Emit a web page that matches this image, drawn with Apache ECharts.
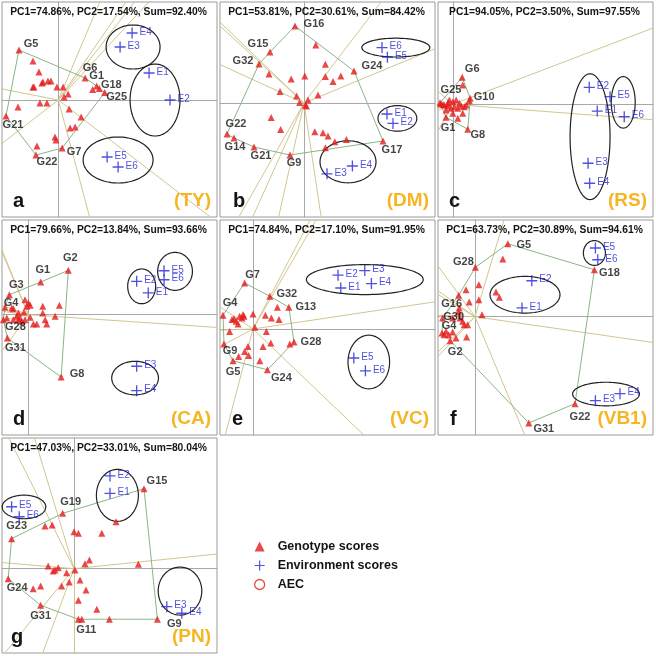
<!DOCTYPE html>
<html><head><meta charset="utf-8">
<script src="https://cdn.jsdelivr.net/npm/echarts@6/dist/echarts.min.js"></script>
<style>html,body{margin:0;padding:0;background:#fff}#c{width:656px;height:656px}</style>
</head><body><div id="c"></div>
<script>
// ---------- DATA ----------
const envNames = ['E1','E2','E3','E4','E5','E6'];
const pcTitles = [
  'PC1=74.86%, PC2=17.54%, Sum=92.40%',
  'PC1=53.81%, PC2=30.61%, Sum=84.42%',
  'PC1=94.05%, PC2=3.50%, Sum=97.55%',
  'PC1=79.66%, PC2=13.84%, Sum=93.66%',
  'PC1=74.84%, PC2=17.10%, Sum=91.95%',
  'PC1=63.73%, PC2=30.89%, Sum=94.61%',
  'PC1=47.03%, PC2=33.01%, Sum=80.04%'
];
const letters = ['a','b','c','d','e','f','g'];
const sites = ['(TY)','(DM)','(RS)','(CA)','(VC)','(VB1)','(PN)'];

// panel a (TY)
const hullNamesA = ['G5','G6','G1','G18','G25','G7','G22','G21'];
const hullA = [[-1.97,2.5],[1.34,1.1],[1.92,0.7],[2.05,0.58],[2.32,0.37],[0.19,-2.4],[-1.12,-2.75],[-2.62,-0.8]];
const genoA = [[-1.27,1.95],[-0.97,1.4],[-0.77,0.9],[-0.52,0.95],[-0.37,0.95],[-0.82,0.85],[-1.27,0.65],[-1.22,0.65],[-0.07,0.65],[0.24,0.65],[0.29,0.15],[0.49,0.3],[-0.92,-0.15],[-0.57,-0.15],[-2.02,-0.35],[0.54,-0.45],[1.14,-0.85],[0.84,-1.35],[0.59,-1.4],[-0.17,-1.85],[-0.12,-2.0],[-1.07,-2.3],[1.72,0.53]];
const envA = [[4.54,1.35],[5.59,0],[3.09,2.65],[3.69,3.35],[2.44,-2.85],[2.99,-3.35]];
const ellA = [[3.74,2.65,1.35,1.1],[4.84,0,1.25,1.8],[2.99,-3.0,1.75,1.15]];
const rangeA = [-2.82,7.94,-5.85,4.9];

// panel b (DM)
const hullNamesB = ['G16','G24','G17','G9','G21','G14','G22','G32','G15'];
const hullB = [[-0.45,3.85],[2.5,1.6],[3.95,-1.9],[-0.7,-2.6],[-2.5,-2.2],[-3.5,-1.75],[-3.85,-1.55],[-2.25,1.95],[-1.7,2.55]];
const genoB = [[0.59,2.9],[1.07,1.94],[-1.75,1.45],[-0.64,1.2],[0.04,1.35],[1.07,1.32],[1.45,1.07],[1.84,1.35],[-1.2,0.57],[-0.37,0.35],[0.7,0.4],[0.2,0.15],[-0.22,0.02],[0.07,-0.1],[0.12,-0.15],[-1.64,-0.72],[-1.17,-1.32],[0.54,-1.44],[0.95,-1.49],[1.2,-1.65],[1.54,-1.94],[2.12,-1.82],[1.07,-2.24]];
const envB = [[4.15,-0.55],[4.45,-1.02],[1.15,-3.54],[2.42,-3.15],[4.17,2.29],[3.9,2.77]];
const ellB = [[4.59,2.77,1.7,0.47],[4.67,-0.77,0.97,0.64],[2.2,-2.94,1.4,1.05]];
const rangeB = [-4.2,6.55,-5.7,5.05];

// panel c (RS)
const hullNamesC = ['G6','G10','G8','G1','G25'];
const hullC = [[0.47,1.35],[0.87,0.3],[0.75,-1.25],[-0.34,-0.65],[-0.64,0.08]];
const genoC = [[0.5,0.97],[-0.17,0.22],[0,0.13],[0.17,0.22],[0.33,0.05],[0.67,-0.04],[-0.42,-0.04],[-0.59,0.02],[-0.25,-0.09],[0.08,-0.12],[0.42,-0.09],[-0.09,-0.2],[0.25,-0.2],[0.58,-0.12],[0.83,0.18],[-0.34,-0.29],[0.25,-0.7],[0.5,-0.45],[0,-0.45],[-0.49,-0.01],[-0.24,0.07]];
const envC = [[7.23,-0.34],[6.83,0.85],[6.77,-2.95],[6.85,-3.95],[7.87,0.38],[8.58,-0.62]];
const ellC = [[6.87,-1.62,1.0,3.15],[8.53,0.1,0.6,1.29]];
const rangeC = [-0.74,10.02,-5.64,5.12];

// panel d (CA)
const hullNamesD = ['G2','G8','G31','G28','G4','G3','G1'];
const hullD = [[2.0,2.22],[1.64,-3.12],[-1.05,-1.17],[-1.25,-0.25],[-1.17,0.37],[-0.95,1.0],[0.62,1.64]];
const genoD = [[-0.17,0.75],[0,0.59],[-0.08,0.42],[0.09,0.47],[0.72,0.42],[1.55,0.47],[-0.83,0.34],[-0.75,0.3],[-0.5,0.09],[-0.22,0.14],[0.72,0.09],[1.34,-0.08],[0.25,-0.47],[0.42,-0.47],[0.92,-0.47],[0.84,-0.25],[-0.42,-0.17],[-0.17,-0.25],[0.09,-0.13],[-0.5,-0.25],[-1.08,-0.17],[-0.58,-0.08],[-0.33,-0.33],[-0.75,-0.25]];
const envD = [[6.0,1.09],[5.42,1.67],[5.42,-2.58],[5.42,-3.8],[6.79,2.2],[6.79,1.75]];
const ellD = [[5.67,1.42,0.7,0.87],[7.34,2.17,0.87,0.95],[5.34,-3.17,1.17,0.84]];
const rangeD = [-1.32,9.44,-6.02,4.74];

// panel e (VC)
const hullNamesE = ['G7','G32','G13','G28','G24','G5','G9','G4'];
const hullE = [[-0.42,2.3],[0.84,1.64],[1.79,1.09],[2.05,-0.65],[0.72,-2.04],[-1.0,-1.59],[-1.45,-0.75],[-1.5,0.69]];
const genoE = [[1.22,1.09],[0.62,0.69],[0.92,0.55],[1.3,0.47],[0,0.75],[-0.45,0.64],[-0.67,0.64],[-0.95,0.52],[-0.84,0.39],[-0.55,0.55],[-0.75,0.25],[-1.17,-0.12],[0.09,0.09],[0.67,-0.12],[0.89,-0.7],[1.84,-0.75],[0.5,-0.87],[-0.25,-0.87],[-0.42,-1.12],[-0.72,-1.37],[-0.22,-1.32],[0.34,-1.59],[-1.05,0.47],[-0.5,0.72]];
const envE = [[4.39,2.05],[4.25,2.69],[5.59,2.92],[5.92,2.27],[5.04,-1.45],[5.62,-2.09]];
const ellE = [[5.59,2.47,2.92,0.75],[5.79,-1.65,1.04,1.34]];
const rangeE = [-1.65,9.1,-5.3,5.45];

// panel f (VB1)
const hullNamesF = ['G5','G18','G22','G31','G2','G4','G30','G16','G28'];
const hullF = [[1.64,3.65],[5.97,2.35],[5.0,-4.35],[2.69,-5.32],[-1.24,-1.2],[-1.65,-0.82],[-1.62,-0.07],[-0.82,1.07],[0.02,2.47]];
const genoF = [[1.39,2.89],[0.19,1.6],[-0.45,1.35],[1.05,1.24],[1.22,0.97],[-0.29,0.74],[0.19,0.85],[0.35,0.1],[-0.79,0.44],[-0.82,0.24],[-1.12,-0.07],[-0.62,-0.23],[-0.54,-0.4],[-0.37,-0.4],[-1.45,-0.73],[-1.12,-0.77],[-1.32,-0.9],[-0.42,-1.02],[-0.95,-1.07],[-1.54,-0.9],[-0.75,-0.07]];
const envF = [[2.35,0.44],[2.84,1.8],[6.02,-4.2],[7.25,-3.85],[6.02,3.44],[6.14,2.85]];
const ellF = [[5.97,3.19,0.55,0.62],[2.5,1.1,1.75,0.92],[6.55,-3.87,1.67,0.59]];
const rangeF = [-1.85,8.9,-5.92,4.84];

// panel g (PN)
const hullNamesG = ['G15','G9','G11','G31','G24','G23','G19'];
const hullG = [[3.5,4.0],[4.17,-2.53],[0.22,-2.53],[-1.67,-1.83],[-3.29,-0.5],[-3.12,1.5],[-0.57,2.77]];
const genoG = [[2.1,2.35],[-1.45,2.14],[-1.09,2.19],[0,1.85],[0.22,1.77],[1.39,1.77],[3.22,0.22],[0.55,0.25],[0.77,0.44],[-1.29,0.14],[-0.79,0.05],[-0.95,-0.07],[-1.04,-0.12],[-0.37,-0.2],[-0.24,-0.67],[0.3,-0.57],[-0.62,-0.87],[-1.67,-0.87],[-2.04,-1.0],[0.6,-1.07],[0.22,-1.58],[1.14,-2.03],[1.77,-2.53],[0.39,-2.53],[0.05,-0.07]];
const envG = [[1.8,3.77],[1.8,4.64],[4.64,-1.9],[5.39,-2.23],[-3.12,3.1],[-2.74,2.6]];
const ellG = [[2.17,3.67,1.05,1.3],[-2.5,3.09,1.09,0.59],[5.3,-1.12,1.09,1.2]];
const rangeG = [-3.6,7.15,-4.22,6.54];

// ---------- STYLE / LAYOUT ----------
const labA = {G5:[12,-6],G6:[5,-10],G1:[0,-10],G18:[12,-3],G25:[12,4],G7:[12,4],G22:[11,7],G21:[7,9]};
const labB = {G16:[19,-2],G15:[-12,-8],G32:[-16,-3],G24:[18,-5],G22:[9,-10],G14:[1,9],G21:[7,9],G9:[4,8],G17:[9,9]};
const labC = {G6:[10,-8],G25:[11,-13],G10:[14,-1],G1:[2,11],G8:[10,6]};
const labD = {G2:[2,-12],G1:[2,-12],G3:[7,-10],G4:[6,-4],G28:[12,7],G31:[8,10],G8:[16,-3]};
const labE = {G7:[8,-8],G32:[17,-2],G13:[17,0],G28:[17,0],G24:[14,8],G5:[0,11],G9:[6,7],G4:[7,-12]};
const labF = {G5:[16,1],G28:[-12,-5],G18:[15,3],G16:[-7,9],G30:[11,-1],G4:[7,-7],G2:[5,11],G22:[5,13],G31:[15,6]};
const labG = {G15:[13,-8],G19:[8,-11],G23:[5,-13],G24:[9,9],G31:[0,11],G11:[8,11],G9:[17,5]};

const panels = [
  {hn:hullNamesA, hull:hullA, geno:genoA, env:envA, ell:ellA, range:rangeA, lab:labA},
  {hn:hullNamesB, hull:hullB, geno:genoB, env:envB, ell:ellB, range:rangeB, lab:labB},
  {hn:hullNamesC, hull:hullC, geno:genoC, env:envC, ell:ellC, range:rangeC, lab:labC},
  {hn:hullNamesD, hull:hullD, geno:genoD, env:envD, ell:ellD, range:rangeD, lab:labD},
  {hn:hullNamesE, hull:hullE, geno:genoE, env:envE, ell:ellE, range:rangeE, lab:labE},
  {hn:hullNamesF, hull:hullF, geno:genoF, env:envF, ell:ellF, range:rangeF, lab:labF},
  {hn:hullNamesG, hull:hullG, geno:genoG, env:envG, ell:ellG, range:rangeG, lab:labG}
];

const FONT = "'Liberation Sans', Arial, sans-serif";
const gridLeft = [2,220,438,2,220,438,2];
const gridTop  = [2,2,2,220,220,220,438];
const SIZE = 215;
const letterDx = [11,13,11,11,12,12,9];
const RED = '#e41c1c', BLUE = '#2424d6', GOLD = '#f5b622';
const plusPath = 'path://M4.4,0h1.2v10h-1.2z M0,4.4h10v1.2h-10z';

// rays from origin perpendicular to each polygon side, ending at the panel edge
function rayEnds(hull, r) {
  const out = [];
  for (let k = 0; k < hull.length; k++) {
    const P = hull[k], Q = hull[(k + 1) % hull.length];
    const ex = Q[0] - P[0], ey = Q[1] - P[1];
    const t = -(P[0] * ex + P[1] * ey) / (ex * ex + ey * ey);
    const fx = P[0] + t * ex, fy = P[1] + t * ey;
    const len = Math.hypot(fx, fy);
    if (len < 1e-9) continue;
    const dx = fx / len, dy = fy / len;
    let tt = Infinity;
    if (dx > 0) tt = Math.min(tt, r[1] / dx);
    if (dx < 0) tt = Math.min(tt, r[0] / dx);
    if (dy > 0) tt = Math.min(tt, r[3] / dy);
    if (dy < 0) tt = Math.min(tt, r[2] / dy);
    out.push([dx * tt, dy * tt]);
  }
  return out;
}

const grids = [], xAxes = [], yAxes = [], series = [], titles = [];
panels.forEach((p, i) => {
  const L = gridLeft[i], T = gridTop[i];
  grids.push({left: L, top: T, width: SIZE, height: SIZE, show: true, borderColor: '#9a9a9a', borderWidth: 1, backgroundColor: 'transparent'});
  const axBase = {gridIndex: i, type: 'value', axisTick: {show: false}, axisLabel: {show: false}, splitLine: {show: false},
    axisLine: {show: true, onZero: true, lineStyle: {color: '#a8a8a8', width: 1}}};
  xAxes.push(Object.assign({}, axBase, {min: p.range[0], max: p.range[1]}));
  yAxes.push(Object.assign({}, axBase, {min: p.range[2], max: p.range[3]}));

  series.push({type: 'lines', coordinateSystem: 'cartesian2d', xAxisIndex: i, yAxisIndex: i, silent: true, z: 1,
    polyline: false, lineStyle: {color: '#d2c68e', width: 1, opacity: 1, curveness: 0},
    data: rayEnds(p.hull, p.range).map(e => ({coords: [[0, 0], e]}))});

  series.push({type: 'line', xAxisIndex: i, yAxisIndex: i, silent: true, z: 2, symbol: 'none',
    lineStyle: {color: '#88b688', width: 1}, data: p.hull.concat([p.hull[0]])});

  series.push({type: 'custom', xAxisIndex: i, yAxisIndex: i, silent: true, z: 3, data: p.ell,
    encode: {x: 0, y: 1},
    renderItem: function (params, api) {
      const c = api.coord([api.value(0), api.value(1)]);
      const s = api.size([api.value(2), api.value(3)]);
      const pts = [];
      for (let k = 0; k < 96; k++) {
        const a = k / 96 * Math.PI * 2;
        pts.push([c[0] + s[0] * Math.cos(a), c[1] + s[1] * Math.sin(a)]);
      }
      return {type: 'polygon', shape: {points: pts}, style: {fill: 'none', stroke: '#222222', lineWidth: 1.2}};
    }});

  const gData = p.hull.map((pt, k) => ({value: pt, name: p.hn[k],
    label: {show: true, offset: p.lab[p.hn[k]] || [12, 0]}}))
    .concat(p.geno.map(pt => ({value: pt})));
  series.push({type: 'scatter', name: 'Genotype scores', xAxisIndex: i, yAxisIndex: i, z: 5,
    symbol: 'triangle', symbolSize: 7, itemStyle: {color: RED},
    label: {show: false, position: 'inside', formatter: '{b}', fontFamily: FONT, fontSize: 11, fontWeight: 'bold',
      color: '#141414', align: 'center', verticalAlign: 'middle'},
    emphasis: {disabled: true}, data: gData});

  series.push({type: 'scatter', name: 'Environment scores', xAxisIndex: i, yAxisIndex: i, z: 6,
    symbol: plusPath, symbolSize: 11, itemStyle: {color: BLUE},
    label: {show: true, position: 'right', distance: 2, offset: [0, -1], formatter: '{b}', fontFamily: FONT,
      fontSize: 10, color: BLUE},
    emphasis: {disabled: true},
    data: p.env.map((pt, k) => ({value: pt, name: envNames[k]}))});

  titles.push({text: pcTitles[i], left: L + SIZE / 2 - 1, top: T + 5, textAlign: 'center', textVerticalAlign: 'top', padding: 0,
    textStyle: {fontFamily: FONT, fontSize: 10.3, fontWeight: 'bold', color: '#141414'}});
  titles.push({text: letters[i], left: L + letterDx[i], top: T + 189, textAlign: 'left', textVerticalAlign: 'top', padding: 0,
    textStyle: {fontFamily: FONT, fontSize: 20, fontWeight: 'bold', color: '#141414'}});
  titles.push({text: sites[i], left: L + SIZE - 6, top: T + 189, textAlign: 'right', textVerticalAlign: 'top', padding: 0,
    textStyle: {fontFamily: FONT, fontSize: 19, fontWeight: 'bold', color: GOLD}});
});

series.push({type: 'scatter', name: 'AEC', xAxisIndex: 0, yAxisIndex: 0, data: [], symbol: 'emptyCircle',
  itemStyle: {color: RED}});

const chart = echarts.init(document.getElementById('c'));
chart.setOption({
  animation: false,
  backgroundColor: '#ffffff',
  title: titles,
  grid: grids,
  xAxis: xAxes,
  yAxis: yAxes,
  legend: {
    orient: 'vertical', left: 254, top: 540, itemWidth: 10, itemHeight: 10, itemGap: 6, padding: 0,
    selectedMode: false,
    textStyle: {fontFamily: FONT, fontSize: 12.5, fontWeight: 'bold', color: '#141414', padding: [0, 0, 0, 8]},
    data: [
      {name: 'Genotype scores', icon: 'triangle'},
      {name: 'Environment scores', icon: plusPath},
      {name: 'AEC', icon: 'circle', itemStyle: {color: 'rgba(0,0,0,0)', borderColor: RED, borderWidth: 1.3}}
    ]
  },
  series: series
});
</script>
</body></html>
